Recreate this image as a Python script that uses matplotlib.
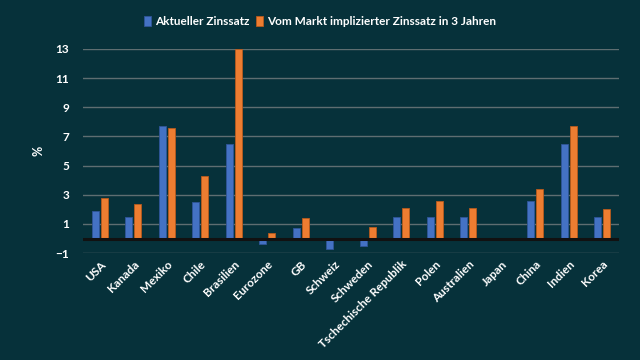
import matplotlib
matplotlib.use("Agg")
import matplotlib.pyplot as plt
import numpy as np

# data
laender = ['USA', 'Kanada', 'Mexiko', 'Chile', 'Brasilien', 'Eurozone', 'GB',
           'Schweiz', 'Schweden', 'Tschechische Republik', 'Polen', 'Australien',
           'Japan', 'China', 'Indien', 'Korea']
aktuell = [1.9, 1.5, 7.75, 2.5, 6.5, -0.4, 0.75, -0.75, -0.5, 1.5, 1.5, 1.5,
           0.0, 2.55, 6.5, 1.5]
in_3_jahren = [2.75, 2.4, 7.6, 4.3, 13.0, 0.4, 1.4, 0.0, 0.8, 2.1, 2.6, 2.1,
               0.0, 3.4, 7.75, 2.0]
yticks = [-1, 1, 3, 5, 7, 9, 11, 13]

bg = '#06313a'
plt.rcParams['font.family'] = ['Lato', 'DejaVu Sans']

fig = plt.figure(figsize=(6.4, 3.6), dpi=100, facecolor=bg)
ax = fig.add_axes([0.13, 0.297, 0.837, 0.567])
ax.set_facecolor('none')

x = np.arange(len(laender))
w = 0.21
ax.bar(x - 0.135, aktuell, w, color='#4472C4', edgecolor='#2f5597',
       linewidth=0.6, label='Aktueller Zinssatz', zorder=3)
ax.bar(x + 0.135, in_3_jahren, w, color='#ED7D31', edgecolor='#b85a1c',
       linewidth=0.6, label='Vom Markt implizierter Zinssatz in 3 Jahren', zorder=3)

ax.set_xlim(-0.5, len(laender) - 0.5)
ax.set_ylim(-1, 13)
ax.set_yticks(yticks)
ax.grid(axis='y', color='#5e6e71', linewidth=1.0, zorder=0)
ax.axhline(0, color='#111111', linewidth=2.2, zorder=4)
for s in ax.spines.values():
    s.set_visible(False)

ax.tick_params(length=0, colors='white', labelsize=8.5)
ax.set_xticks(x)
ax.set_xticklabels(laender, rotation=45, ha='right', rotation_mode='anchor',
                   fontweight='bold', color='white')
for lbl in ax.get_yticklabels():
    lbl.set_fontweight('bold')
ax.tick_params(axis='y', pad=10)
ax.tick_params(axis='x', pad=4)

ax.set_ylabel('%', color='white', fontsize=9, fontweight='bold', labelpad=8)

leg = fig.legend(loc='upper center', bbox_to_anchor=(0.5, 0.985), ncol=2,
                 frameon=False, fontsize=8.5, handlelength=0.6, handleheight=0.9,
                 handletextpad=0.3, columnspacing=0.6)
for t in leg.get_texts():
    t.set_color('white')
    t.set_fontweight('bold')

fig.savefig('out.png', dpi=100, facecolor=bg)
